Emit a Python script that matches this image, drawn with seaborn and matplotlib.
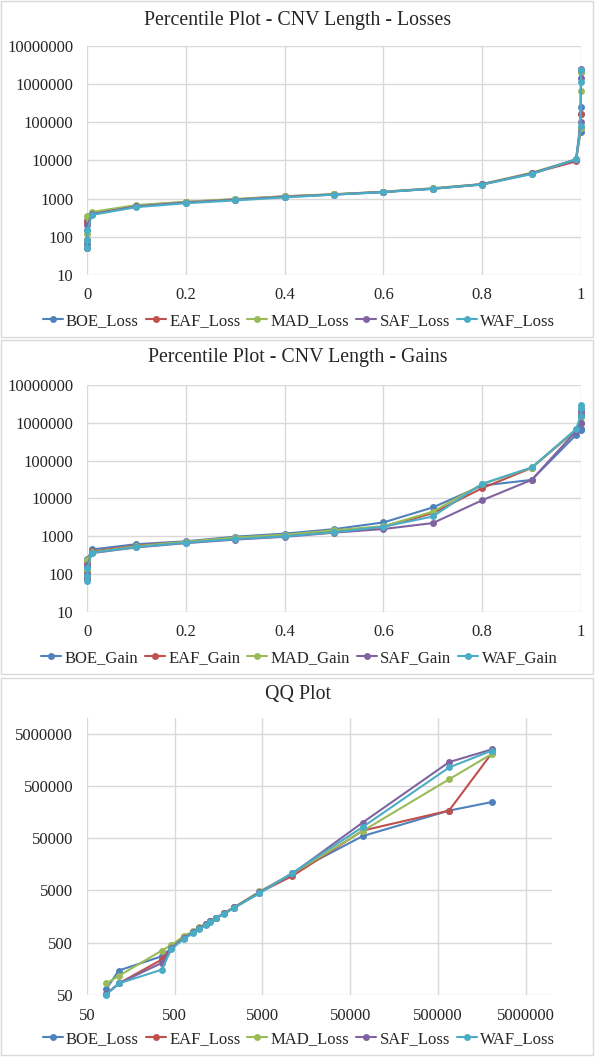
import numpy as np
import pandas as pd
import seaborn as sns
import matplotlib.pyplot as plt
from matplotlib.lines import Line2D
from matplotlib.patches import Rectangle
from matplotlib.ticker import FixedLocator, FuncFormatter, NullLocator

# percentiles used for both percentile plots
percentiles = [0, 0.0001, 0.001, 0.01, 0.1, 0.2, 0.3, 0.4, 0.5, 0.6, 0.7, 0.8, 0.9,
               0.99, 0.999, 0.9999, 1]

# CNV length (losses) at each percentile
boe_loss = [65, 147, 276, 390, 650, 820, 960, 1130, 1300, 1500, 1850, 2400, 4500, 10800, 55000, 169000, 246000]
eaf_loss = [52, 83, 239, 400, 640, 800, 950, 1150, 1290, 1510, 1830, 2350, 4600, 9460, 70000, 169000, 2100000]
mad_loss = [83, 116, 355, 448, 680, 830, 980, 1160, 1310, 1520, 1880, 2420, 4800, 10500, 69000, 670000, 2040000]
saf_loss = [52, 83, 206, 390, 630, 790, 940, 1120, 1280, 1490, 1820, 2380, 4600, 10500, 100000, 1430000, 2500000]
waf_loss = [51, 83, 153, 375, 600, 760, 900, 1080, 1270, 1480, 1810, 2340, 4400, 10800, 82000, 1130000, 2370000]

# CNV length (gains) at each percentile
boe_gain = [100, 155, 250, 450, 620, 740, 980, 1180, 1550, 2330, 5800, 22000, 31000, 480000, 650000, 680000, 680000]
eaf_gain = [85, 110, 200, 400, 570, 710, 900, 1060, 1400, 1750, 4100, 18800, 64000, 640000, 1000000, 1500000, 1850000]
mad_gain = [95, 130, 240, 380, 550, 720, 930, 1100, 1450, 1850, 4500, 24000, 65000, 650000, 1000000, 1400000, 1650000]
saf_gain = [75, 100, 180, 360, 510, 660, 820, 970, 1250, 1560, 2240, 9000, 31000, 600000, 1000000, 1600000, 2000000]
waf_gain = [65, 90, 150, 370, 520, 680, 850, 1000, 1280, 1800, 3350, 24500, 66000, 680000, 1500000, 2500000, 2950000]

# reference quantiles (x axis of the QQ plot)
qq_reference = [83, 115, 357, 456, 641, 818, 944, 1133, 1279, 1497, 1846, 2398, 4625, 10970, 69500, 670000, 2050000]

loss_names = ["BOE_Loss", "EAF_Loss", "MAD_Loss", "SAF_Loss", "WAF_Loss"]
gain_names = ["BOE_Gain", "EAF_Gain", "MAD_Gain", "SAF_Gain", "WAF_Gain"]
colors = ["#4F81BD", "#C0504D", "#9BBB59", "#8064A2", "#4BACC6"]

losses = [boe_loss, eaf_loss, mad_loss, saf_loss, waf_loss]
gains = [boe_gain, eaf_gain, mad_gain, saf_gain, waf_gain]


def long_df(xvals, series, names):
    rows = []
    for name, vals in zip(names, series):
        for x, y in zip(xvals, vals):
            rows.append({"x": x, "y": y, "series": name})
    return pd.DataFrame(rows)


sns.set_theme(style="white")
plt.rcParams["font.family"] = ["Liberation Serif", "DejaVu Serif"]

W, H = 596, 1057
fig = plt.figure(figsize=(W / 100, H / 100), dpi=100)
txt = "#262626"
grid = "#d9d9d9"


def px_axes(left, top, right, bottom):
    return fig.add_axes([left / W, 1 - bottom / H, (right - left) / W, (bottom - top) / H])


def num_fmt(v, pos):
    return f"{v:g}" if v < 1 else str(int(round(v)))


def style_axes(ax, xlog):
    for s in ax.spines.values():
        s.set_visible(False)
    ax.set_yscale("log")
    if xlog:
        ax.set_xscale("log")
    ax.grid(True, color=grid, lw=1)
    ax.set_axisbelow(True)
    ax.tick_params(axis="both", length=0, labelsize=12, colors=txt)
    ax.tick_params(axis="y", pad=10)
    ax.tick_params(axis="x", pad=9)
    ax.yaxis.set_minor_locator(NullLocator())
    ax.xaxis.set_minor_locator(NullLocator())
    ax.yaxis.set_major_formatter(FuncFormatter(num_fmt))
    ax.xaxis.set_major_formatter(FuncFormatter(num_fmt))
    ax.set_xlabel("")
    ax.set_ylabel("")


def draw(ax, df):
    sns.lineplot(data=df, x="x", y="y", hue="series", palette=colors, marker="o",
                 markersize=5, markeredgewidth=0, lw=1.5, estimator=None,
                 sort=False, legend=False, ax=ax)
    for line in ax.lines:
        line.set_clip_on(False)


def add_legend(names, y_px):
    handles = [Line2D([], [], color=c, lw=1.5, marker="o", markersize=5,
                      markeredgewidth=0) for c in colors]
    fig.legend(handles, names, loc="center", bbox_to_anchor=(299 / W, 1 - y_px / H),
               ncol=5, frameon=False, fontsize=12, handlelength=1.2,
               handletextpad=0.2, columnspacing=0.42, labelcolor=txt)


def border(top, bottom):
    fig.add_artist(Rectangle((1 / W, 1 - bottom / H), (592) / W, (bottom - top) / H,
                             transform=fig.transFigure, fill=False,
                             edgecolor=grid, lw=1))


# panel 1: losses
border(1, 337)
ax1 = px_axes(87, 46, 581, 275)
draw(ax1, long_df(percentiles, losses, loss_names))
style_axes(ax1, False)
ax1.set_xlim(0, 1)
ax1.set_ylim(10, 1e7)
ax1.xaxis.set_major_locator(FixedLocator([0, 0.2, 0.4, 0.6, 0.8, 1]))
ax1.yaxis.set_major_locator(FixedLocator([10 ** k for k in range(1, 8)]))
fig.text(298 / W, 1 - 20 / H, "Percentile Plot - CNV Length - Losses",
         ha="center", va="center", fontsize=14.3, color=txt)
add_legend(loss_names, 321)

# panel 2: gains
border(340, 674)
ax2 = px_axes(87, 385, 581, 612)
draw(ax2, long_df(percentiles, gains, gain_names))
style_axes(ax2, False)
ax2.set_xlim(0, 1)
ax2.set_ylim(10, 1e7)
ax2.xaxis.set_major_locator(FixedLocator([0, 0.2, 0.4, 0.6, 0.8, 1]))
ax2.yaxis.set_major_locator(FixedLocator([10 ** k for k in range(1, 8)]))
fig.text(298 / W, 1 - 358 / H, "Percentile Plot - CNV Length - Gains",
         ha="center", va="center", fontsize=14.3, color=txt)
add_legend(gain_names, 658)

# panel 3: QQ plot
border(678, 1055)
ax3 = px_axes(87, 718, 552, 995)
draw(ax3, long_df(qq_reference, losses, loss_names))
style_axes(ax3, True)
ax3.set_xlim(50, 1e7)
ax3.set_ylim(50, 1e7)
qq_ticks = [5 * 10 ** k for k in range(1, 7)]
ax3.xaxis.set_major_locator(FixedLocator(qq_ticks))
ax3.yaxis.set_major_locator(FixedLocator(qq_ticks))
fig.text(298 / W, 1 - 694 / H, "QQ Plot", ha="center", va="center",
         fontsize=14.3, color=txt)
add_legend(loss_names, 1039)

fig.savefig("out.png", dpi=100, facecolor="white")
